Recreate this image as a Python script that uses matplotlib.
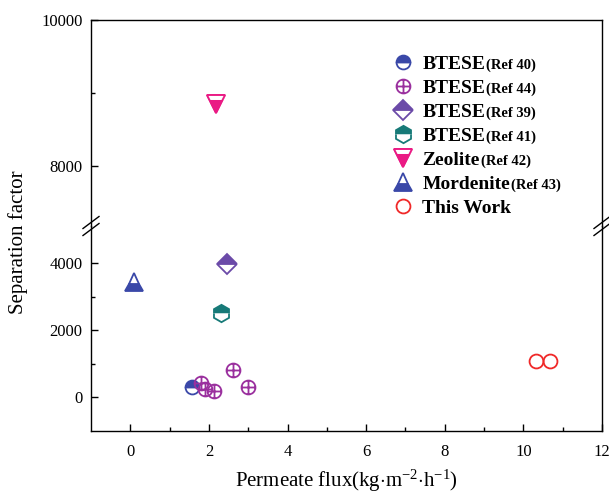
import matplotlib
matplotlib.use("Agg")
import matplotlib.pyplot as plt
from matplotlib.path import Path
from matplotlib.lines import Line2D
from matplotlib.legend_handler import HandlerTuple

# =========================================
# DATOS
# =========================================

ref40_x = [1.58]
ref40_y = [320]

ref44_x = [1.79, 1.90, 2.12, 2.61, 2.99]
ref44_y = [440, 243, 203, 817, 320]

ref39_x = [2.46]
ref39_y = [3965]

ref41_x = [2.31]
ref41_y = [2500]

zeolite_x = [2.18]
zeolite_y = [8850]

mordenite_x = [0.09]
mordenite_y = [3425]

work_x = [10.33, 10.68]
work_y = [1084, 1084]

labels_main = ["BTESE", "BTESE", "BTESE", "BTESE", "Zeolite", "Mordenite", "This Work"]
labels_ref = ["(Ref 40)", "(Ref 44)", "(Ref 39)", "(Ref 41)", "(Ref 42)", "(Ref 43)", ""]

# =========================================
# ESTILO
# =========================================

plt.rcParams["font.family"] = "Liberation Serif"
plt.rcParams["mathtext.fontset"] = "custom"
plt.rcParams["mathtext.rm"] = "Liberation Serif"
plt.rcParams["mathtext.it"] = "Liberation Serif:italic"
plt.rcParams["axes.linewidth"] = 1.0

W, H = 609, 495
fig = plt.figure(figsize=(W / 100, H / 100), dpi=100)

left = 91 / W
right = 602 / W
y_bot = 1 - 431 / H
y_brk = 1 - 226 / H
y_top = 1 - 20 / H

ax_lo = fig.add_axes([left, y_bot, right - left, y_brk - y_bot])
ax_hi = fig.add_axes([left, y_brk, right - left, y_top - y_brk], sharex=ax_lo)

# marcador circulo con cruz
circ = Path.unit_circle()
cross = Path([[-1, 0], [1, 0], [0, -1], [0, 1]],
             [Path.MOVETO, Path.LINETO, Path.MOVETO, Path.LINETO])
oplus = Path.make_compound_path(circ, cross)

# franja blanca superior del triangulo invertido (misma escala que "v")
band = Path([[-1, 1], [1, 1], [0.75, 0.5], [-0.75, 0.5], [-1, 1]],
            [Path.MOVETO, Path.LINETO, Path.LINETO, Path.LINETO, Path.CLOSEPOLY])

c40 = "#3a48a8"
c44 = "#9a2f9e"
c39 = "#6b4aa8"
c41 = "#177a78"
czeo = "#ea1a84"
cmor = "#3a48a8"
cwork = "#f02828"

# =========================================
# PUNTOS
# =========================================

handles = []
for ax in (ax_lo, ax_hi):
    h1, = ax.plot(ref40_x, ref40_y, "o", ms=10, mfc=c40, mfcalt="white",
                  fillstyle="top", mec=c40, mew=1.3, ls="none")
    h2, = ax.plot(ref44_x, ref44_y, marker=oplus, ms=10, mfc="none",
                  mec=c44, mew=1.3, ls="none")
    h3, = ax.plot(ref39_x, ref39_y, "D", ms=10, mfc=c39, mfcalt="white",
                  fillstyle="top", mec=c39, mew=1.3, ls="none")
    h4, = ax.plot(ref41_x, ref41_y, "h", ms=12.5, mfc=c41, mfcalt="white",
                  fillstyle="top", mec=c41, mew=1.3, ls="none")
    h5a, = ax.plot(zeolite_x, zeolite_y, "v", ms=13, mfc=czeo,
                   mec=czeo, mew=1.3, ls="none")
    h5b, = ax.plot(zeolite_x, zeolite_y, marker=band, ms=13, mfc="white",
                   mec="none", mew=0, ls="none")
    h5c, = ax.plot(zeolite_x, zeolite_y, "v", ms=13, mfc="none",
                   mec=czeo, mew=1.3, ls="none")
    h6, = ax.plot(mordenite_x, mordenite_y, "^", ms=13, mfc=cmor, mfcalt="white",
                  fillstyle="bottom", mec=cmor, mew=1.3, ls="none")
    h7, = ax.plot(work_x, work_y, "o", ms=10, mfc="none",
                  mec=cwork, mew=1.3, ls="none")
    handles = [h1, h2, h3, h4, (h5a, h5b, h5c), h6, h7]

# =========================================
# EJES
# =========================================

ax_lo.set_xlim(-1, 12)
ax_lo.set_ylim(-1000, 5100)
ax_hi.set_ylim(7180, 10000)

ax_lo.set_xticks([0, 2, 4, 6, 8, 10, 12])
ax_lo.set_xticks([1, 3, 5, 7, 9, 11], minor=True)
ax_lo.set_yticks([0, 2000, 4000])
ax_lo.set_yticks([1000, 3000], minor=True)
ax_hi.set_yticks([8000, 10000])
ax_hi.set_yticks([9000], minor=True)

for ax in (ax_lo, ax_hi):
    ax.tick_params(which="both", direction="in", right=False, top=False,
                   labelsize=12, width=1.0)
    ax.tick_params(which="major", length=5, pad=6)
    ax.tick_params(which="minor", length=3)

ax_lo.tick_params(axis="x", which="both", pad=9)
ax_hi.tick_params(axis="x", which="both", bottom=False, labelbottom=False)

ax_lo.spines["top"].set_visible(False)
ax_hi.spines["bottom"].set_visible(False)

ax_lo.set_xlabel(r"Permeate flux(kg$\cdot$m$^{-2}$$\cdot$h$^{-1}$)",
                 fontsize=15, labelpad=6)
fig.text(18 / W, 0.511, "Separation factor", rotation=90,
         fontsize=15, ha="center", va="center")

# marcas de corte
for xb in (91, 602):
    for dy in (-3.5, 3.5):
        x0 = (xb - 8) / W
        x1 = (xb + 8) / W
        yc = 1 - (226 + dy) / H
        fig.add_artist(Line2D([x0, x1], [yc - 6 / H, yc + 6 / H],
                              color="black", lw=1.0,
                              transform=fig.transFigure))

# =========================================
# LEYENDA
# =========================================

leg = ax_hi.legend(handles, labels_main, loc="upper left",
                   bbox_to_anchor=(393 / W, 1 - 55 / H),
                   bbox_transform=fig.transFigure,
                   handler_map={tuple: HandlerTuple(ndivide=1, pad=0)},
                   frameon=False, borderpad=0, borderaxespad=0,
                   handlelength=1.0, handletextpad=0.5, labelspacing=0.33,
                   prop={"family": "Liberation Serif", "weight": "bold", "size": 14})

fig.canvas.draw()
for t, ref in zip(leg.get_texts(), labels_ref):
    if ref == "":
        continue
    bb = t.get_window_extent()
    fig.text(bb.x1 / W + 1 / W, bb.y0 / H + 1 / H, ref, fontsize=10.5,
             fontweight="bold", ha="left", va="bottom")

fig.savefig("out.png", dpi=100)
